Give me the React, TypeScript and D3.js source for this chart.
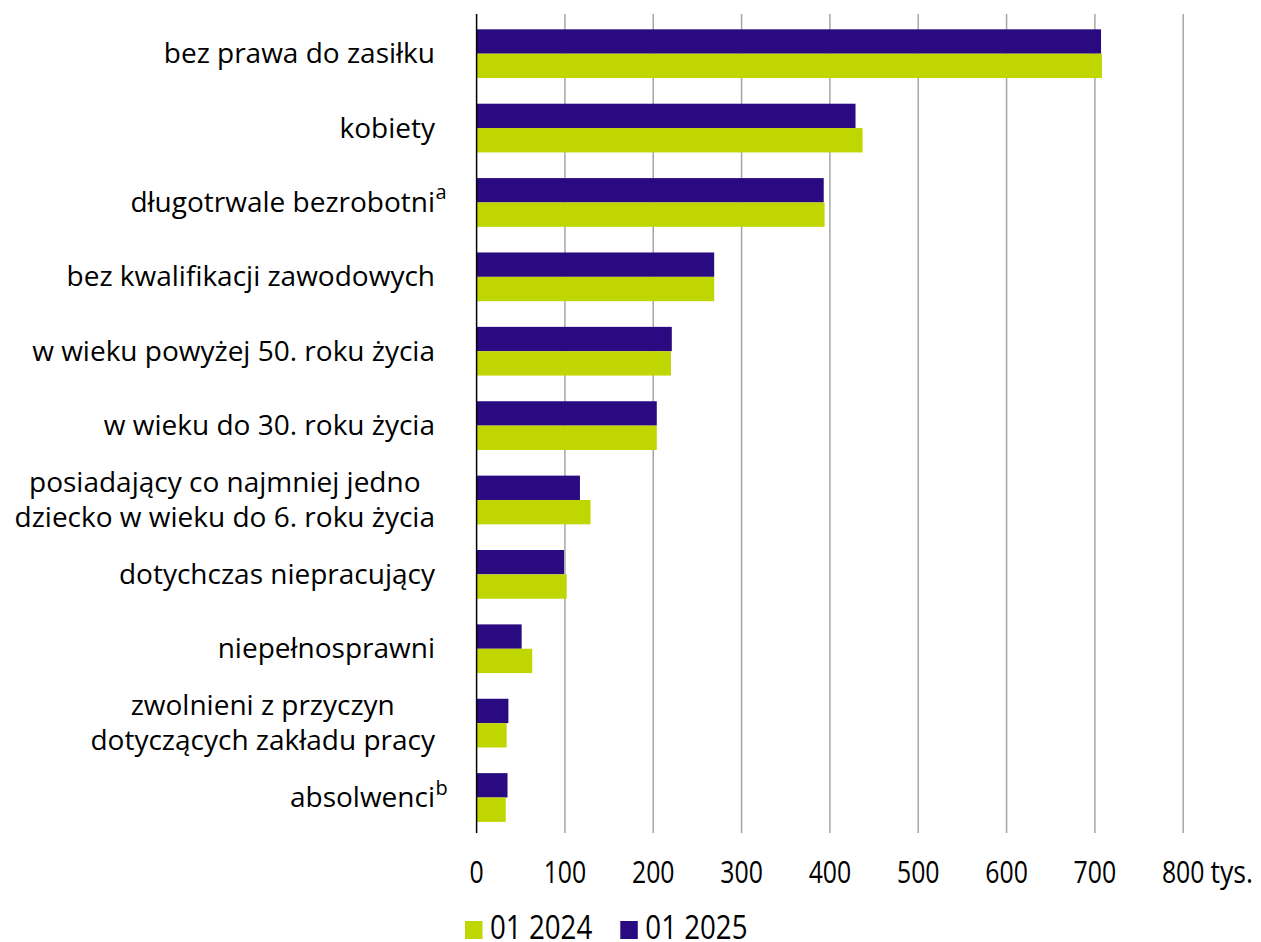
import { useEffect, useRef } from "react";
import * as d3 from "d3";

// one entry per category: text lines and optional superscript mark
const categories = [
  ["bez prawa do zasiłku"],
  ["kobiety"],
  ["długotrwale bezrobotni"],
  ["bez kwalifikacji zawodowych"],
  ["w wieku powyżej 50. roku życia"],
  ["w wieku do 30. roku życia"],
  ["posiadający co najmniej jedno", "dziecko w wieku do 6. roku życia"],
  ["dotychczas niepracujący"],
  ["niepełnosprawni"],
  ["zwolnieni z przyczyn", "dotyczących zakładu pracy"],
  ["absolwenci"],
];
const superscripts = ["", "", "a", "", "", "", "", "", "", "", "b"];
const values2025 = [707, 429, 393, 269, 221, 204, 117, 99, 51, 36, 35];
const values2024 = [708, 437, 394, 269, 220, 204, 129, 102, 63, 34, 33];
const ticks = [0, 100, 200, 300, 400, 500, 600, 700, 800];
const series = [
  { name: "01 2024", color: "#bfd600" },
  { name: "01 2025", color: "#290a80" },
];

const W = 1261;
const H = 942;
const font = "'Open Sans', sans-serif";
const narrow = 0.8; // ticks use a condensed face
const legendNarrow = 0.84;

export default function App() {
  const ref = useRef<SVGSVGElement | null>(null);

  useEffect(() => {
    const svg = d3.select(ref.current);
    svg.selectAll("*").remove();

    const x = d3.scaleLinear().domain([0, 800]).range([476.6, 1183.2]);
    const y = d3
      .scaleBand<number>()
      .domain(d3.range(categories.length))
      .range([16.5, 834.7])
      .paddingInner(0.345)
      .paddingOuter(0.1725);
    const half = y.bandwidth() / 2;

    // gridlines
    svg
      .append("g")
      .selectAll("line")
      .data(ticks.slice(1))
      .enter()
      .append("line")
      .attr("x1", (d) => x(d))
      .attr("x2", (d) => x(d))
      .attr("y1", 14)
      .attr("y2", 833)
      .attr("stroke", "#a6a6a6")
      .attr("stroke-width", 1.5);

    // bars
    const bars = svg.append("g");
    bars
      .selectAll("rect.b25")
      .data(values2025)
      .enter()
      .append("rect")
      .attr("class", "b25")
      .attr("x", x(0))
      .attr("y", (_, i) => y(i)!)
      .attr("width", (d) => x(d) - x(0))
      .attr("height", half)
      .attr("fill", series[1].color);
    bars
      .selectAll("rect.b24")
      .data(values2024)
      .enter()
      .append("rect")
      .attr("class", "b24")
      .attr("x", x(0))
      .attr("y", (_, i) => y(i)! + half)
      .attr("width", (d) => x(d) - x(0))
      .attr("height", half)
      .attr("fill", series[0].color);

    // axis line
    svg
      .append("line")
      .attr("x1", x(0))
      .attr("x2", x(0))
      .attr("y1", 14)
      .attr("y2", 833)
      .attr("stroke", "#000")
      .attr("stroke-width", 1.5);

    // category labels: block right-aligned, lines centred inside block
    const labelRight = 435;
    const lineH = 35;
    categories.forEach((lines, i) => {
      const cy = y(i)! + y.bandwidth() / 2;
      const g = svg.append("g");
      const texts = lines.map((line, j) =>
        g
          .append("text")
          .attr("font-family", font)
          .attr("font-size", 28)
          .attr("fill", "#000")
          .attr("y", cy + 9.5 + (j - (lines.length - 1) / 2) * lineH)
          .text(line)
      );
      const widths = texts.map((t) => (t.node() as SVGTextElement).getComputedTextLength());
      const blockW = d3.max(widths) ?? 0;
      texts.forEach((t) => {
        if (lines.length === 1) t.attr("x", labelRight).attr("text-anchor", "end");
        else t.attr("x", labelRight - blockW / 2).attr("text-anchor", "middle");
      });
      if (superscripts[i]) {
        g.append("text")
          .attr("font-family", font)
          .attr("font-size", 20)
          .attr("x", labelRight + 0.5)
          .attr("y", cy - 3)
          .text(superscripts[i]);
      }
    });

    // tick labels (horizontally condensed)
    const tickG = svg.append("g");
    ticks.forEach((t) => {
      const txt = tickG
        .append("text")
        .attr("font-family", font)
        .attr("font-size", 31)
        .attr("transform", `translate(${x(t)},883) scale(${narrow},1)`)
        .attr("text-anchor", "middle")
        .text(String(t));
      if (t === 800) {
        const w = (txt.node() as SVGTextElement).getComputedTextLength() * narrow;
        tickG
          .append("text")
          .attr("font-family", font)
          .attr("font-size", 31)
          .attr("transform", `translate(${x(t) + w / 2 + 6},883) scale(0.86,1)`)
          .text("tys.");
      }
    });

    // legend
    const legend = svg.append("g");
    let lx = 465;
    series.forEach((s) => {
      legend
        .append("rect")
        .attr("x", lx)
        .attr("y", 921)
        .attr("width", 17.5)
        .attr("height", 18)
        .attr("fill", s.color);
      const t = legend
        .append("text")
        .attr("font-family", font)
        .attr("font-size", 33)
        .attr("transform", `translate(${lx + 25},939) scale(${legendNarrow},1)`)
        .text(s.name);
      lx += 25 + (t.node() as SVGTextElement).getComputedTextLength() * legendNarrow + 28;
    });
  }, []);

  return (
    <svg
      ref={ref}
      width={W}
      height={H}
      style={{ position: "absolute", left: 0, top: 0, background: "#fff" }}
    />
  );
}
